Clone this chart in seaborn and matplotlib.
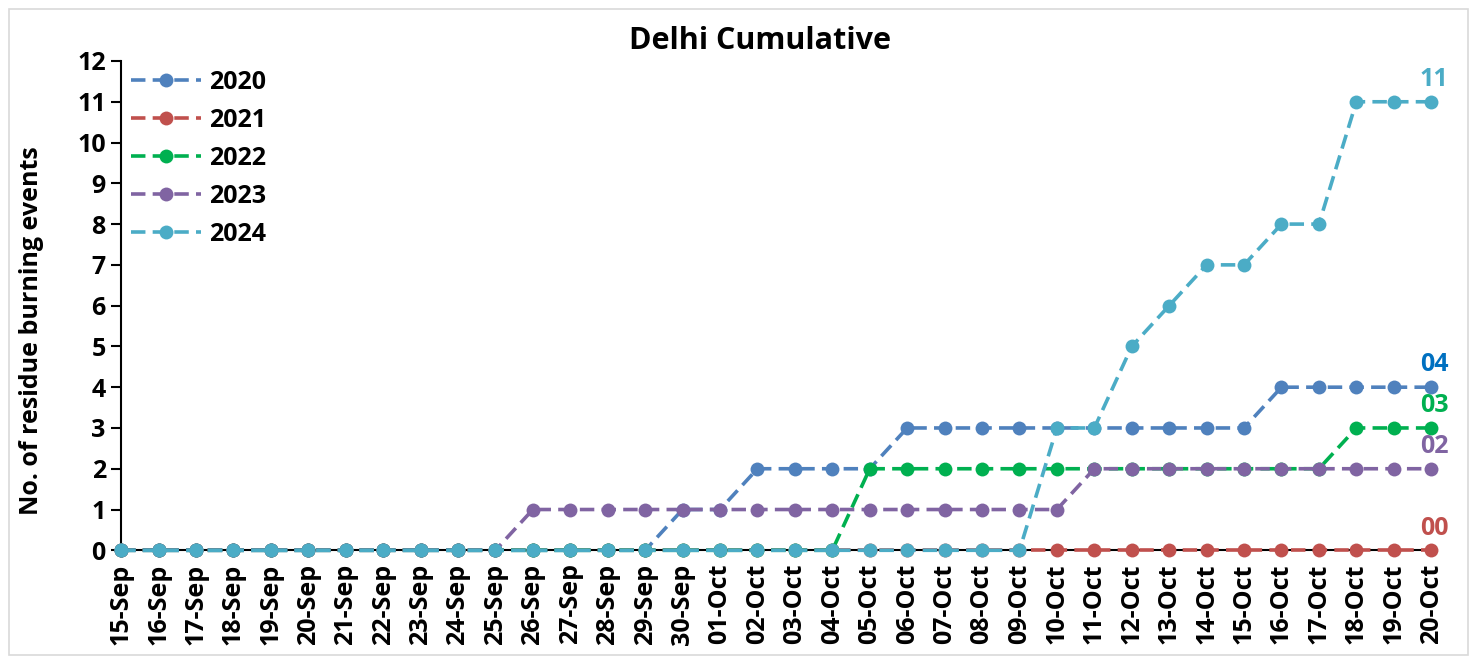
import numpy as np
import pandas as pd
import matplotlib
matplotlib.use('Agg')
import matplotlib.pyplot as plt
import seaborn as sns
from matplotlib.patches import Rectangle

# data
dates = ['15-Sep', '16-Sep', '17-Sep', '18-Sep', '19-Sep', '20-Sep', '21-Sep', '22-Sep',
         '23-Sep', '24-Sep', '25-Sep', '26-Sep', '27-Sep', '28-Sep', '29-Sep', '30-Sep',
         '01-Oct', '02-Oct', '03-Oct', '04-Oct', '05-Oct', '06-Oct', '07-Oct', '08-Oct',
         '09-Oct', '10-Oct', '11-Oct', '12-Oct', '13-Oct', '14-Oct', '15-Oct', '16-Oct',
         '17-Oct', '18-Oct', '19-Oct', '20-Oct']

y2020 = [0, 0, 0, 0, 0, 0, 0, 0, 0, 0, 0, 0, 0, 0, 0, 1, 1, 2, 2, 2, 2, 3, 3, 3,
         3, 3, 3, 3, 3, 3, 3, 4, 4, 4, 4, 4]
y2021 = [0] * 36
y2022 = [0, 0, 0, 0, 0, 0, 0, 0, 0, 0, 0, 0, 0, 0, 0, 0, 0, 0, 0, 0, 2, 2, 2, 2,
         2, 2, 2, 2, 2, 2, 2, 2, 2, 3, 3, 3]
y2023 = [0, 0, 0, 0, 0, 0, 0, 0, 0, 0, 0, 1, 1, 1, 1, 1, 1, 1, 1, 1, 1, 1, 1, 1,
         1, 1, 2, 2, 2, 2, 2, 2, 2, 2, 2, 2]
y2024 = [0, 0, 0, 0, 0, 0, 0, 0, 0, 0, 0, 0, 0, 0, 0, 0, 0, 0, 0, 0, 0, 0, 0, 0,
         0, 3, 3, 5, 6, 7, 7, 8, 8, 11, 11, 11]

years = ['2020', '2021', '2022', '2023', '2024']
series = [y2020, y2021, y2022, y2023, y2024]
colors = ['#4F81BD', '#C0504D', '#00B050', '#8064A2', '#4BACC6']
end_labels = ['04', '00', '03', '02', '11']
end_colors = ['#0070C0', '#C0504D', '#00B050', '#8064A2', '#4BACC6']

sns.set_style('white')
plt.rcParams['font.family'] = ['Open Sans', 'DejaVu Sans']
plt.rcParams['font.weight'] = 'bold'
plt.rcParams['text.color'] = 'black'
plt.rcParams['axes.labelcolor'] = 'black'
plt.rcParams['xtick.color'] = 'black'
plt.rcParams['ytick.color'] = 'black'

FS = 18

fig = plt.figure(figsize=(14.77, 6.63), dpi=100)
ax = fig.add_axes([0.082, 0.170, 0.887, 0.738])

x = np.arange(len(dates))
for yr, vals, col in zip(years, series, colors):
    df = pd.DataFrame({'day': x, 'count': vals})
    sns.lineplot(data=df, x='day', y='count', ax=ax, color=col, label=yr,
                 linestyle=(0, (4, 2)), linewidth=2.6, marker='o', markersize=10,
                 markeredgewidth=0, clip_on=False, zorder=3)

for vals, lab, col in zip(series, end_labels, end_colors):
    ax.annotate(lab, (x[-1], vals[-1]), xytext=(2, 7), textcoords='offset points',
                ha='center', va='bottom', color=col, fontsize=FS, fontweight='bold',
                annotation_clip=False)

ax.set_xlim(0, len(dates) - 1)
ax.set_ylim(0, 12)
ax.set_yticks(range(0, 13))
ax.set_xticks(x)
ax.set_xticklabels(dates, rotation=90)
ax.tick_params(axis='y', which='both', left=True, length=7, width=1.5, direction='out',
               labelsize=FS, pad=4)
ax.tick_params(axis='x', bottom=False, labelsize=FS, pad=6)
for lbl in ax.get_xticklabels() + ax.get_yticklabels():
    lbl.set_fontweight('bold')

for s in ['top', 'right']:
    ax.spines[s].set_visible(False)
for s in ['left', 'bottom']:
    ax.spines[s].set_color('black')
    ax.spines[s].set_linewidth(1.5)
    ax.spines[s].set_zorder(2)

ax.set_xlabel('')
ax.set_ylabel('No. of residue burning events', fontsize=FS, fontweight='bold')
ax.yaxis.set_label_coords(-0.059, 0.448)
fig.text(0.5146, 0.926, 'Delhi Cumulative', fontsize=22, fontweight='bold',
         ha='center', va='baseline')

leg = ax.legend(loc='upper left', frameon=False, handlelength=2.8, fontsize=FS,
                borderaxespad=0.0, labelspacing=0.52, handletextpad=0.3,
                bbox_to_anchor=(0.0, 1.002))
for t in leg.get_texts():
    t.set_fontweight('bold')

fig.patches.append(Rectangle((0.006, 0.012), 0.988, 0.975, transform=fig.transFigure,
                             fill=False, edgecolor='#D9D9D9', linewidth=1.2))

fig.savefig('out.png', dpi=100)
